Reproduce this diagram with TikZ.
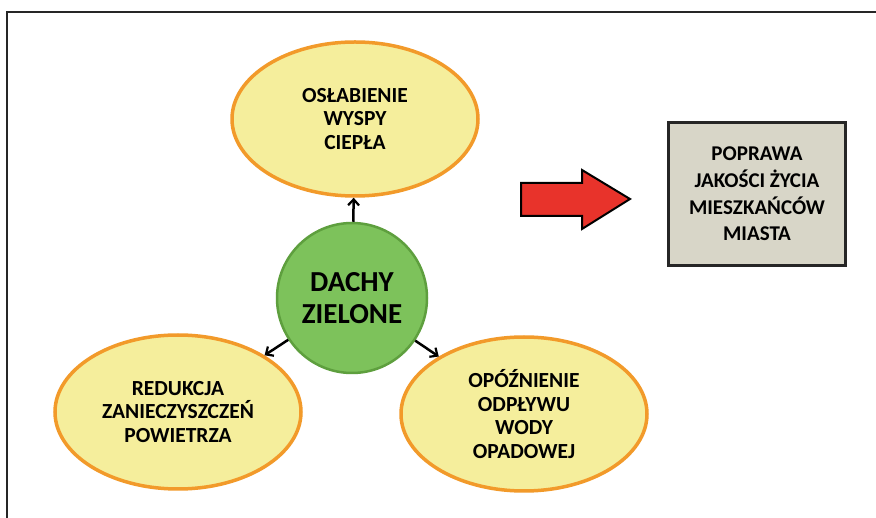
\documentclass[tikz,border=0pt]{standalone}
\usepackage{fontspec}
\setmainfont{Carlito}
\usetikzlibrary{shapes.geometric,arrows.meta}
\definecolor{ellfill}{HTML}{F5EE9C}
\definecolor{ellborder}{HTML}{F29A2A}
\definecolor{greenfill}{HTML}{7DC25B}
\definecolor{greenborder}{HTML}{5E9F3E}
\definecolor{redarrow}{HTML}{E8332B}
\definecolor{boxfill}{HTML}{D8D6C8}
\tikzset{
  effect/.style={ellipse, draw=ellborder, line width=3.5pt, fill=ellfill,
    minimum width=246pt, minimum height=154pt, inner sep=0pt,
    align=center, font=\bfseries\fontsize{21.5}{23.8}\selectfont},
  core/.style={circle, draw=greenborder, line width=2.5pt, fill=greenfill,
    minimum size=150pt, inner sep=0pt, align=center,
    font=\bfseries\fontsize{29}{32}\selectfont},
  resultbox/.style={rectangle, draw=black!85, line width=2.5pt, fill=boxfill,
    minimum width=177pt, minimum height=143pt, inner sep=0pt, align=center,
    font=\bfseries\fontsize{21}{26.7}\selectfont},
  link/.style={-{Straight Barb[length=6pt,width=11pt,line width=2.2pt]}, line width=2.5pt, black}
}
\begin{document}
\begin{tikzpicture}[x=1pt,y=-1pt]
\useasboundingbox (0,0) rectangle (876,518);
\fill[white] (0,0) rectangle (876,518);
% frame
\draw[black!85, line width=1.5pt] (7,518) -- (7,12) -- (876,12);
% nodes
\node[effect] (heat) at (355,119) {OSŁABIENIE\\WYSPY\\CIEPŁA};
\node[effect] (air) at (178,412) {REDUKCJA\\ZANIECZYSZCZEŃ\\POWIETRZA};
\node[effect] (water) at (524,414) {OPÓŹNIENIE\\ODPŁYWU\\WODY\\OPADOWEJ};
\node[core] (roof) at (352,298) {DACHY\\ZIELONE};
\node[resultbox] (life) at (757,194) {POPRAWA\\JAKOŚCI ŻYCIA\\MIESZKAŃCÓW\\MIASTA};
% connectors
\draw[link] (roof) -- (heat);
\draw[link] (roof) -- (air);
\draw[link] (roof) -- (water);
% big red arrow
\draw[fill=redarrow, draw=black, line width=2pt, line join=miter]
  (521,183) -- (582,183) -- (582,170) -- (630,199) -- (582,229) -- (582,216) -- (521,216) -- cycle;
\end{tikzpicture}
\end{document}
